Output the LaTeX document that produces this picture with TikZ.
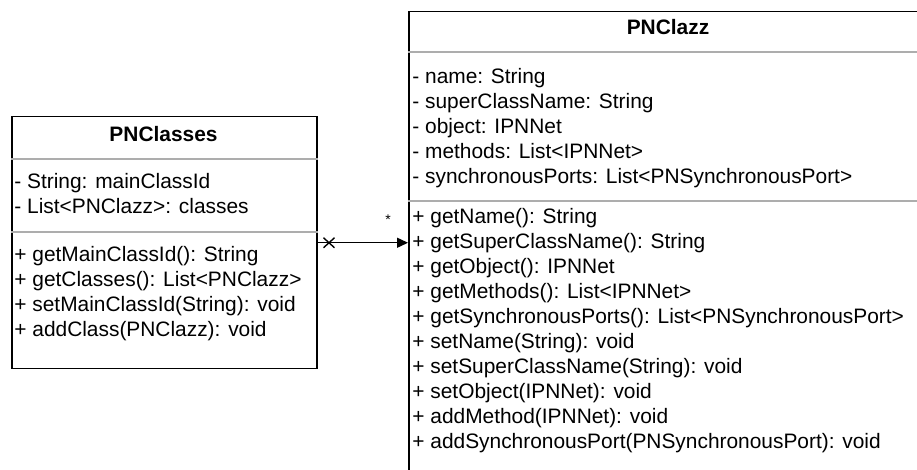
\documentclass[tikz,border=0pt]{standalone}
\usepackage{fontspec}
\setmainfont{Liberation Sans}
\usetikzlibrary{calc,positioning,arrows.meta}

\begin{document}
\begin{tikzpicture}[
    x=0.5pt, y=-0.5pt,
    classbox/.style={draw, line width=0.75pt, inner sep=0pt, anchor=north west},
    classname/.style={inner sep=0pt, anchor=base, font=\fontsize{10.45}{12.5}\selectfont\bfseries},
    member/.style={inner sep=0pt, anchor=base west, font=\fontsize{10.45}{12.5}\selectfont},
    divider/.style={draw=black!32, line width=0.9pt},
    assoc/.style={draw, line width=0.7pt, -{Triangle[length=5.5pt, width=5pt]}},
    mult/.style={inner sep=0pt, font=\fontsize{7}{8}\selectfont}
]
\clip (0,0) rectangle (917,470);

% class boxes
\node (Classes) [classbox, minimum width=152.5pt, minimum height=126pt] at (11,116) {};
\node (Clazz) [classbox, minimum width=260pt, minimum height=250pt] at (408,11) {};

% compartments
\draw[divider] ([yshift=-21.5pt]Classes.north west) -- ([yshift=-21.5pt]Classes.north east);
\draw[divider] ([yshift=-58pt]Classes.north west) -- ([yshift=-58pt]Classes.north east);
\draw[divider] ([yshift=-20.5pt]Clazz.north west) -- ([yshift=-20.5pt]Clazz.north east);
\draw[divider] ([yshift=-95pt]Clazz.north west) -- ([yshift=-95pt]Clazz.north east);

% PNClasses
\node (ClassesName) [classname] at (163.5,141.5) {PNClasses};
\foreach \txt [count=\i] in {- String: mainClassId, - List<PNClazz>: classes}
  \node (ClassesAttr\i) [member] at (14,163.5+25*\i) {\txt};
\foreach \txt [count=\i] in {+ getMainClassId(): String, + getClasses(): List<PNClazz>,
    + setMainClassId(String): void, + addClass(PNClazz): void}
  \node (ClassesOp\i) [member] at (14,236.5+25*\i) {\txt};

% PNClazz
\node (ClazzName) [classname] at (668,35) {PNClazz};
\foreach \txt [count=\i] in {- name: String, - superClassName: String, - object: IPNNet,
    - methods: List<IPNNet>, - synchronousPorts: List<PNSynchronousPort>}
  \node (ClazzAttr\i) [member] at (412,58.5+25*\i) {\txt};
\foreach \txt [count=\i] in {+ getName(): String, + getSuperClassName(): String,
    + getObject(): IPNNet, + getMethods(): List<IPNNet>,
    + getSynchronousPorts(): List<PNSynchronousPort>, + setName(String): void,
    + setSuperClassName(String): void, + setObject(IPNNet): void,
    + addMethod(IPNNet): void, + addSynchronousPort(PNSynchronousPort): void}
  \node (ClazzOp\i) [member] at (412,198.5+25*\i) {\txt};

% association
\draw[assoc] (Classes.east) -- (Classes.east -| Clazz.west);
\coordinate (NoNav) at ($(Classes.east)+(11.5,0)$);
\draw[line width=0.7pt] ($(NoNav)+(-5.5,-5)$) -- ($(NoNav)+(5.5,5)$)
  ($(NoNav)+(-5.5,5)$) -- ($(NoNav)+(5.5,-5)$);
\node (Mult) [mult] at (388,220) {*};
\end{tikzpicture}
\end{document}
